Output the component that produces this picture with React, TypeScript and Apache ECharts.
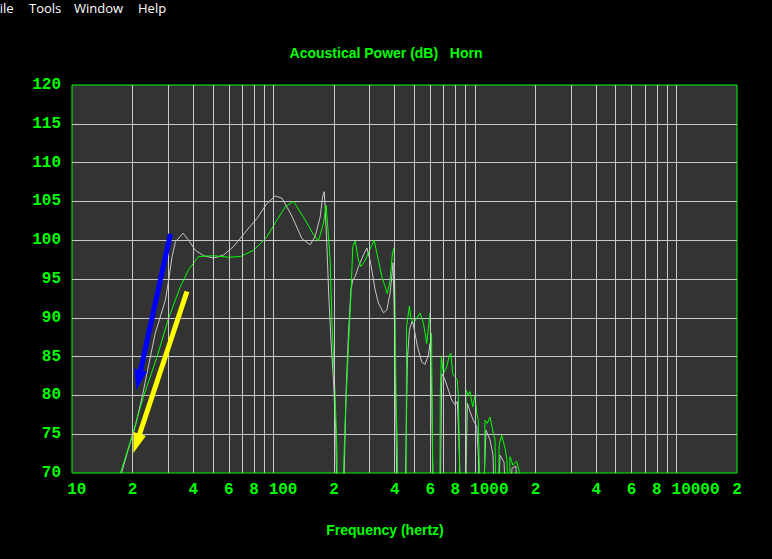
import React, { useEffect, useRef } from "react";
import * as echarts from "echarts";

// ---- data (frequency in Hz, power in dB) ----
const greenFreq = [17.4, 19.95, 22.6, 26.45, 30.2, 34.5, 37.9, 42.5, 50.5, 60, 68.5, 79.7, 92.9, 104.1, 114.4, 125.9, 143.8, 158.1, 167.3, 177.2, 182.7, 191.2, 195, 198.6, 202.5, 206.4, 209, 219, 222.6, 227, 235.7, 242.3, 247.7, 254.4, 264.2, 271.6, 285.2, 299.6, 316.1, 332, 345, 358.4, 367.9, 379.3, 389.5, 397.2, 401, 406.3, 412, 415, 452, 455.3, 458, 473, 480.6, 495.1, 534.4, 554.9, 576.8, 599, 603.9, 609.3, 615, 621.3, 668, 673, 681.6, 697.3, 724.9, 746.8, 758.9, 776.3, 796.9, 818.1, 827.4, 839, 846.7, 897, 903.4, 924.5, 945.6, 975.2, 1001, 1020.7, 1039.7, 1054.2, 1064, 1105, 1122, 1151.6, 1188, 1233.7, 1258, 1272.8, 1309, 1319.8, 1358, 1410, 1443, 1459.5, 1484.5, 1493, 1545, 1612, 1655, 1673, 2000];
const greenDb = [70, 74.9, 79.8, 85.0, 90.0, 94.0, 96.2, 97.9, 98.0, 97.8, 97.9, 98.7, 100.45, 102.6, 104.3, 105.0, 102.6, 100.7, 99.9, 102.2, 104.5, 97.4, 89.7, 85.0, 79.8, 73.4, 60, 60, 70, 76.8, 86.3, 92.7, 99.2, 99.9, 97.4, 96.6, 97.4, 98.7, 100.0, 97.4, 95.3, 94.0, 93.1, 94.9, 98.3, 99.0, 92.7, 79.4, 73.4, 60, 60, 70, 88.9, 91.5, 90.0, 89.3, 90.6, 89.3, 86.7, 90.6, 86.3, 88, 75, 60, 60, 80, 85.0, 82.8, 83.7, 85.2, 85.4, 82.8, 82.4, 82.0, 79.8, 72, 60, 60, 80.7, 80.0, 80.5, 78.5, 80.0, 77.7, 76.8, 70, 60, 60, 76.8, 76.4, 77.2, 75.2, 74.3, 65, 66, 73.6, 74.9, 73.2, 71.7, 66, 66, 72.1, 71.0, 71.5, 70.4, 65, 55];

const whiteFreq = [17.6, 19.5, 20.6, 22.3, 24.5, 25.9, 29.1, 30.2, 31.4, 32.6, 35.6, 37.9, 40.96, 45.0, 50.5, 56.6, 63.4, 73.9, 82.8, 92.9, 102.1, 110.3, 121.2, 126, 138.5, 152.2, 161.1, 170.6, 175.5, 178.6, 180.6, 184.2, 188, 193, 198.6, 203.8, 206, 210, 220, 224.4, 229.6, 234.9, 242.3, 247.9, 254.4, 264.2, 279.8, 290.8, 302, 319.7, 332, 351.6, 365.3, 379.5, 392.6, 399.4, 406.3, 411, 415, 450, 453, 462.2, 473, 486.1, 495.1, 518.3, 544.9, 565.7, 587.5, 599, 610.7, 620, 625, 670, 675.3, 684.6, 710.9, 738.3, 767.4, 796.9, 818.1, 834.2, 848.4, 900, 903.4, 916.8, 945.6, 981.8, 1020.7, 1041.8, 1060, 1110, 1115.5, 1135, 1188, 1229.6, 1251, 1309, 1332, 1394.6, 1426.7, 1510, 1527, 1598, 1636, 2000];
const whiteDb = [70, 74, 76.0, 79.8, 85.0, 88.0, 92.3, 94.9, 97.9, 99.8, 100.9, 100.0, 98.7, 98.0, 97.7, 98.1, 99.2, 101.3, 102.8, 104.75, 105.7, 105.4, 103.5, 102.6, 100.2, 99.4, 100.5, 103.0, 105.6, 106.25, 104.3, 99.2, 93.2, 87.1, 82.0, 75.5, 68, 60, 60, 70, 80.7, 87.1, 93.6, 94.9, 95.3, 96.6, 98.1, 99.0, 97.4, 93.6, 91.9, 90.65, 91.0, 93.2, 97.1, 88.4, 75.5, 65, 60, 60, 70, 84.6, 88.4, 89.5, 89.1, 86.3, 84.3, 84.0, 85.2, 86.7, 80, 68, 60, 60, 70, 82.8, 82.0, 80.7, 79.4, 78.8, 79.2, 74, 66, 60, 70, 79.0, 77.9, 76.8, 76.0, 72, 62, 62, 70, 75.5, 74.3, 72.3, 66, 66, 72.3, 71.4, 66, 67, 70.6, 70.9, 65, 55];

// vertical grid lines (Hz)
const gridFreqs = [20, 30, 40, 50, 60, 70, 80, 90, 100, 200, 300, 400, 500, 600, 700, 800, 900, 1000, 2000, 3000, 4000, 5000, 6000, 7000, 8000, 9000, 10000];
// x tick labels
const tickFreqs = [10, 20, 40, 60, 80, 100, 200, 400, 600, 800, 1000, 2000, 4000, 6000, 8000, 10000, 20000];
const tickTexts = ["10", "2", "4", "6", "8", "100", "2", "4", "6", "8", "1000", "2", "4", "6", "8", "10000", "2"];

// annotation arrows: [start, end] as [Hz, dB]
const blueArrow = [[30.8, 100.8], [21.4, 82.0]];
const yellowArrow = [[37.2, 93.4], [20.9, 73.8]];

const GREEN = "#00ff00";
const MONO = "'Liberation Mono', 'DejaVu Sans Mono', monospace";
const SANS = "'Liberation Sans', Arial, sans-serif";
const CHAR_W = 9.6;

export default function App() {
  const ref = useRef<HTMLDivElement>(null);
  useEffect(() => {
    if (!ref.current) return;
    const chart = echarts.init(ref.current, undefined, { renderer: "svg" });
    const rich: any = {};
    for (let n = 1; n <= 5; n++) {
      rich["p" + n] = {
        color: GREEN,
        fontFamily: MONO,
        fontWeight: "bold",
        fontSize: 16,
        padding: [0, 0, 0, (n - 1) * CHAR_W],
      };
    }
    const option: any = {
      animation: false,
      backgroundColor: "#000000",
      grid: {
        left: 72,
        top: 85,
        right: 35,
        bottom: 86,
        show: true,
        backgroundColor: "#333333",
        borderColor: GREEN,
        borderWidth: 1,
        containLabel: false,
      },
      xAxis: {
        type: "log",
        logBase: 10,
        min: 10,
        max: 20000,
        axisLine: { show: false },
        axisTick: { show: false },
        splitLine: { show: false },
        minorTick: { show: false },
        axisLabel: {
          show: true,
          customValues: tickFreqs,
          margin: 9,
          color: GREEN,
          fontFamily: MONO,
          fontWeight: "bold",
          fontSize: 16,
          hideOverlap: false,
          formatter: (v: number) => {
            const i = tickFreqs.findIndex((t) => Math.abs(t - v) / t < 1e-6);
            if (i < 0) return "";
            const s = tickTexts[i];
            return "{p" + s.length + "|" + s + "}";
          },
          rich,
        },
      },
      yAxis: {
        type: "value",
        min: 70,
        max: 120,
        interval: 5,
        axisLine: { show: false },
        axisTick: { show: false },
        axisLabel: {
          margin: 11,
          color: GREEN,
          fontFamily: MONO,
          fontWeight: "bold",
          fontSize: 16,
        },
        splitLine: {
          show: true,
          showMinLine: false,
          showMaxLine: false,
          lineStyle: { color: "#c8c8c8", width: 1 },
        },
      },
      graphic: [
        { type: "text", left: -7, top: 1, style: { text: "File", fill: "#ffffff", font: "13px 'Open Sans', sans-serif" } },
        { type: "text", left: 29, top: 1, style: { text: "Tools", fill: "#ffffff", font: "13px 'Open Sans', sans-serif" } },
        { type: "text", left: 74, top: 1, style: { text: "Window", fill: "#ffffff", font: "13px 'Open Sans', sans-serif" } },
        { type: "text", left: 138, top: 1, style: { text: "Help", fill: "#ffffff", font: "13px 'Open Sans', sans-serif" } },
        {
          type: "text",
          x: 386,
          y: 53,
          style: {
            text: "Acoustical Power (dB)   Horn",
            fill: GREEN,
            font: "bold 14px " + SANS,
            align: "center",
            verticalAlign: "middle",
          },
        },
        {
          type: "text",
          x: 385,
          y: 530,
          style: {
            text: "Frequency (hertz)",
            fill: GREEN,
            font: "bold 14px " + SANS,
            align: "center",
            verticalAlign: "middle",
          },
        },
      ],
      series: [
        {
          type: "line",
          name: "grid",
          data: [],
          z: 1,
          silent: true,
          markLine: {
            silent: true,
            symbol: ["none", "none"],
            label: { show: false },
            lineStyle: { color: "#c8c8c8", width: 1, type: "solid" },
            emphasis: { disabled: true },
            data: gridFreqs.map((f) => ({ xAxis: f })),
          },
        },
        {
          type: "line",
          name: "white",
          data: whiteFreq.map((f, i) => [f, whiteDb[i]]),
          showSymbol: false,
          symbol: "none",
          z: 3,
          lineStyle: { color: "#c8c8c8", width: 1 },
          itemStyle: { color: "#c8c8c8" },
        },
        {
          type: "line",
          name: "green",
          data: greenFreq.map((f, i) => [f, greenDb[i]]),
          showSymbol: false,
          symbol: "none",
          z: 4,
          lineStyle: { color: GREEN, width: 1 },
          itemStyle: { color: GREEN },
        },
        {
          type: "line",
          name: "arrows",
          data: [],
          z: 10,
          silent: true,
          markLine: {
            silent: true,
            symbol: ["none", "triangle"],
            symbolSize: [13, 20],
            label: { show: false },
            emphasis: { disabled: true },
            data: [
              [
                { coord: blueArrow[0], lineStyle: { color: "#0000ff", width: 5, type: "solid" }, itemStyle: { color: "#0000ff" } },
                { coord: blueArrow[1] },
              ],
              [
                { coord: yellowArrow[0], lineStyle: { color: "#ffff00", width: 5, type: "solid" }, itemStyle: { color: "#ffff00" } },
                { coord: yellowArrow[1] },
              ],
            ],
          },
        },
      ],
    };
    chart.setOption(option);
    return () => chart.dispose();
  }, []);
  return (
    <div
      ref={ref}
      style={{ position: "fixed", left: 0, top: 0, width: 772, height: 559, background: "#000" }}
    />
  );
}
